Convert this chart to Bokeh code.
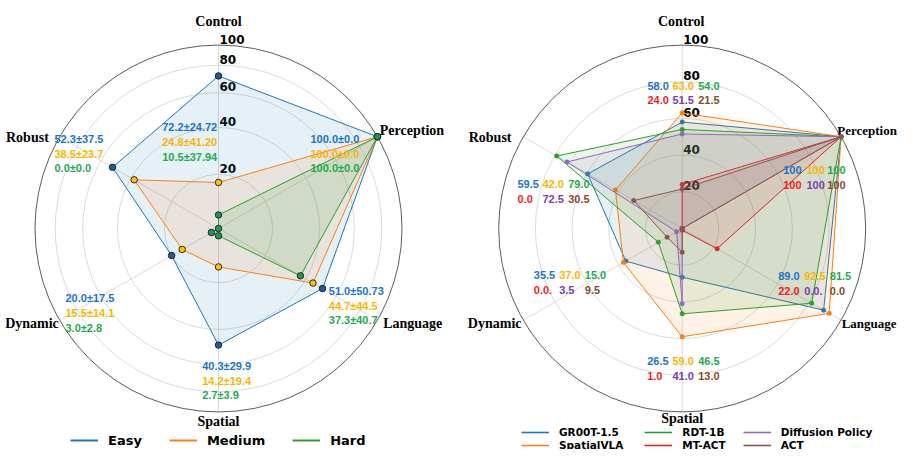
import numpy as np
from bokeh.plotting import figure
from bokeh.models import ColumnDataSource, Range1d, Legend, LegendItem
from bokeh.embed import file_html
from bokeh.resources import INLINE
from bokeh.core.properties import value

# ---------------- data ----------------
categories = ["Control", "Perception", "Language", "Spatial", "Dynamic", "Robust"]

# left chart: difficulty levels (plotted radii read against the chart's radial grid)
levels = ["Easy", "Medium", "Hard"]
easy_scores = [72.2, 100.0, 51.0, 49.0, 20.0, 52.3]
medium_scores = [17.0, 100.0, 44.7, 14.2, 15.5, 38.5]
hard_scores = [5.0, 100.0, 37.3, 2.7, 3.0, 0.0]
easy_labels = ["72.2±24.72", "100.0±0.0", "51.0±50.73", "40.3±29.9", "20.0±17.5", "52.3±37.5"]
medium_labels = ["24.8±41.20", "100.0±0.0", "44.7±44.5", "14.2±19.4", "15.5±14.1", "38.5±23.7"]
hard_labels = ["10.5±37.94", "100.0±0.0", "37.3±40.7", "2.7±3.9", "3.0±2.8", "0.0±0.0"]
left_ticks = [20, 40, 60, 80, 100]
left_tick_labels = ["20", "40", "60", "80", "100"]

# right chart: models
models = ["GR00T-1.5", "SpatialVLA", "RDT-1B", "MT-ACT", "Diffusion Policy", "ACT"]
gr00t_scores = [58.0, 100.0, 89.0, 26.5, 35.5, 59.5]
spatialvla_scores = [63.0, 100.0, 92.5, 59.0, 37.0, 42.0]
rdt_scores = [54.0, 100.0, 81.5, 46.5, 15.0, 79.0]
mtact_scores = [24.0, 100.0, 22.0, 1.0, 0.0, 0.0]
dp_scores = [51.5, 100.0, 0.0, 41.0, 3.5, 72.5]
act_scores = [21.5, 100.0, 0.0, 13.0, 9.5, 30.5]
gr00t_labels = ["58.0", "100", "89.0", "26.5", "35.5", "59.5"]
spatialvla_labels = ["63.0", "100", "92.5", "59.0", "37.0", "42.0"]
rdt_labels = ["54.0", "100", "81.5", "46.5", "15.0", "79.0"]
mtact_labels = ["24.0", "100", "22.0", "1.0", "0.0.", "0.0"]
dp_labels = ["51.5", "100", "0.0.", "41.0", "3.5", "72.5"]
act_labels = ["21.5", "100", "0.0", "13.0", "9.5", "30.5"]
right_ticks = [20, 40, 60, 80, 100]
right_tick_labels = ["20", "40", "60", "80", "100"]

# ---------------- styles / layout ----------------
TAB = ["#1f77b4", "#ff7f0e", "#2ca02c", "#d62728", "#9467bd", "#8c564b"]
ANN = ["#1c74c8", "#f9b500", "#1faa50", "#f01e1e", "#7b3db0", "#8b4a24"]
LEFT_MARK = ["#1b5c9c", "#ffc107", "#1a9a5a"]
R = 183.5
CY = 228.0
LCX, RCX = 218.0, 681.7
GRID_C = "#d6d6d6"
SERIF = "Liberation Serif"
SANS = "Liberation Sans"
DEJA = "DejaVu Sans"

W, H = 897, 449
p = figure(width=W, height=H, x_range=Range1d(0, W), y_range=Range1d(H, 0),
           output_backend="svg", toolbar_location=None, min_border=0,
           min_border_left=0, min_border_right=0, min_border_top=0, min_border_bottom=0)
p.axis.visible = False
p.grid.visible = False
p.outline_line_color = None
p.background_fill_color = "white"

theta = np.deg2rad(90 - 60 * np.arange(len(categories)))


def left_scale(v):
    return R * np.interp(np.asarray(v, dtype=float), [0, 20, 40, 60, 80, 100],
                         [0, 0.295, 0.55, 0.74, 0.89, 1.0])


def right_scale(v):
    return R * np.asarray(v, dtype=float) / 100.0


def to_xy(cx, r):
    r = np.asarray(r, dtype=float)
    return cx + r * np.cos(theta), CY - r * np.sin(theta)


def add_text(xs, ys, texts, colors, font, size, align, style="bold"):
    src = ColumnDataSource(dict(x=list(xs), y=list(ys), text=list(texts), c=list(colors)))
    p.text(x="x", y="y", text="text", text_color="c", source=src,
           text_font=value(font), text_font_size=size, text_font_style=style,
           text_align=align, text_baseline="middle")


def draw_frame(cx, scale, ticks, tick_labels, offs, sizes):
    radii = [float(scale(t)) for t in ticks]
    p.circle(x=[cx] * (len(radii) - 1), y=[CY] * (len(radii) - 1), radius=radii[:-1],
             fill_color=None, line_color=GRID_C, line_width=0.9)
    ox, oy = to_xy(cx, [R] * len(categories))
    p.segment(x0=[cx] * len(categories), y0=[CY] * len(categories), x1=ox, y1=oy,
              line_color=GRID_C, line_width=0.9)
    p.circle(x=[cx], y=[CY], radius=[R], fill_color=None, line_color="#4a4a4a", line_width=0.9)
    # radial tick labels along the Control axis
    add_text([cx + 1] * len(ticks), [CY - r - 6 for r in radii], tick_labels,
             ["black"] * len(ticks), DEJA, "12px", "left")
    # category labels
    for cat, (dx, dy, al), sz in zip(categories, offs, sizes):
        add_text([cx + dx], [CY + dy], [cat], ["black"], SERIF, sz, al)


# ---------------- left chart ----------------
left_offs = [(0, -207.3, "center"), (161.3, -97.7, "left"), (164.7, 94.5, "left"),
             (0, 193.2, "center"), (-159.7, 94.5, "right"), (-169.7, -91.3, "right")]
draw_frame(LCX, left_scale, left_ticks, left_tick_labels, left_offs, ["14px"] * 6)
left_series = [easy_scores, medium_scores, hard_scores]
fill_alphas = [0.11, 0.11, 0.13]
left_leg = []
for i, sc in enumerate(left_series):
    x, y = to_xy(LCX, left_scale(sc))
    p.patch(x=list(x), y=list(y), fill_color=TAB[i], fill_alpha=fill_alphas[i], line_color=None)
    p.line(x=list(x) + [x[0]], y=list(y) + [y[0]], line_color=TAB[i], line_width=1)
    p.scatter(x=list(x), y=list(y), size=6.5, fill_color=LEFT_MARK[i],
              line_color="#1a1a1a", line_width=0.9)
    left_leg.append(p.line(x=[np.nan], y=[np.nan], line_color=TAB[i], line_width=2))

left_anchor = [(-1.3, -101.3, "right"), (92.0, -89.5, "left"), (110.3, 62.3, "left"),
               (-16.3, 137.3, "left"), (-153.0, 69.7, "left"), (-164.0, -89.5, "left")]
for k, (dx, dy, al) in enumerate(left_anchor):
    labs = [easy_labels[k], medium_labels[k], hard_labels[k]]
    add_text([LCX + dx] * 3, [CY + dy + 14.7 * j for j in range(3)], labs, ANN[:3],
             SANS, "11px", al)

# ---------------- right chart ----------------
right_offs = [(-1.0, -207.3, "center"), (155.0, -97.7, "left"), (159.5, 94.5, "left"),
              (0, 190.0, "center"), (-160.7, 94.5, "right"), (-170.7, -91.3, "right")]
draw_frame(RCX, right_scale, right_ticks, right_tick_labels, right_offs,
           ["14px", "13px", "13px", "14px", "14px", "14px"])
right_series = [gr00t_scores, spatialvla_scores, rdt_scores, mtact_scores, dp_scores, act_scores]
right_labels = [gr00t_labels, spatialvla_labels, rdt_labels, mtact_labels, dp_labels, act_labels]
right_leg = []
for i, sc in enumerate(right_series):
    x, y = to_xy(RCX, right_scale(sc))
    p.patch(x=list(x), y=list(y), fill_color=TAB[i], fill_alpha=0.1, line_color=None)
    p.line(x=list(x) + [x[0]], y=list(y) + [y[0]], line_color=TAB[i], line_width=1)
    p.scatter(x=list(x), y=list(y), size=4.5, fill_color=TAB[i], line_color=TAB[i], line_width=0.5)
    right_leg.append(p.line(x=[np.nan], y=[np.nan], line_color=TAB[i], line_width=1.6))

right_anchor = [([-34.7, -9.7, 16.0], -143.0), ([101.0, 124.3, 145.0], -58.7),
                ([96.0, 122.0, 147.6], 47.3), ([-35.0, -9.7, 16.0], 132.3),
                ([-148.4, -123.0, -97.4], 46.7), ([-164.7, -139.7, -114.0], -44.7)]
for k, (cols, dy) in enumerate(right_anchor):
    xs, ys, ts = [], [], []
    for m in range(6):
        row, col = divmod(m, 3)
        xs.append(RCX + cols[col])
        ys.append(CY + dy + 14.8 * row)
        ts.append(right_labels[m][k])
    add_text(xs, ys, ts, ANN, SANS, "11px", "left")

# ---------------- legends ----------------
def make_legend(items, loc, orient, size, gh, spacing, lh=1.2):
    return Legend(items=items, location=loc, orientation=orient,
                  glyph_width=28, glyph_height=gh, label_height=gh, label_standoff=10,
                  spacing=spacing, padding=0, margin=0, border_line_color=None,
                  background_fill_alpha=0, label_text_font=DEJA, label_text_color="black",
                  label_text_font_style="bold", label_text_font_size=size,
                  label_text_line_height=lh)


p.add_layout(make_legend([LegendItem(label=value(l), renderers=[r]) for l, r in zip(levels, left_leg)],
                         (70, 0.7), "horizontal", "13px", 16, 27))
# right legend: matplotlib-style 3 columns x 2 rows, filled column by column
col_x = [521.0, 644.3, 742.7]
row_y = [11.5, -1.5]
for m, (name, rend) in enumerate(zip(models, right_leg)):
    col, row = divmod(m, 2)
    p.add_layout(make_legend([LegendItem(label=value(name), renderers=[rend])],
                             (col_x[col], row_y[row]), "vertical", "10.5px", 12, 0, lh=1.0))

open("out.html", "w").write(file_html(p, INLINE))
